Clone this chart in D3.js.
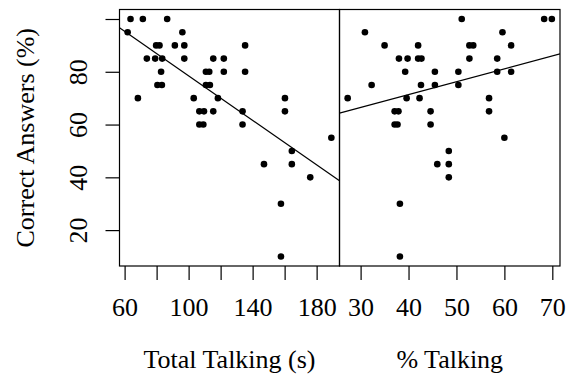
<!DOCTYPE html>
<html><head><meta charset="utf-8">
<script src="https://cdn.jsdelivr.net/npm/d3@7"></script>
<style>body{margin:0;background:#fff}svg{display:block}text{font-family:"Liberation Serif","Times New Roman",serif;fill:#000}</style>
</head><body><svg id="c" width="566" height="376"></svg>
<script>
// Left panel: Total Talking (s) vs Correct Answers (%)
const totalTalking = [63.7,71.4,86.6, 61.9,96.1, 79.7,81.8,91.4,97.3,135.3, 73.9,79.1,83.5,97.3,115.4,122,
  82.8,110.8,112.9,122,135.3, 80.5,83.3,110.8,113.3, 68.3,103.2,118.3,160.2, 106.7,109.6,115.4,133.7,160.2,
  106.7,109.2,133.7, 189.2, 164.5, 147.1,164.5, 176, 157.7, 157.7];
const correctLeft = [100,100,100, 95,95, 90,90,90,90,90, 85,85,85,85,85,85,
  80,80,80,80,80, 75,75,75,75, 70,70,70,70, 65,65,65,65,65,
  60,60,60, 55, 50, 45,45, 40, 30, 10];
// Right panel: % Talking vs Correct Answers (%)
const pctTalking = [51.1,68.3,69.9, 30.9,59.6, 35,42,52.7,53.5,61.4, 38,39.8,42,42.7,52.7,58.5,
  39.3,45.5,50.4,58.5,61.4, 32.3,42.6,45.5,50.4, 27.3,39.6,42.3,56.8, 37.1,37.9,44.6,56.8,
  37.1,37.7,44.6, 60, 48.4, 46,48.4, 48.4, 38.2, 38.2];
const correctRight = [100,100,100, 95,95, 90,90,90,90,90, 85,85,85,85,85,85,
  80,80,80,80,80, 75,75,75,75, 70,70,70,70, 65,65,65,65,
  60,60,60, 55, 50, 45,45, 40, 30, 10];
// Fitted regression lines [intercept, slope]
const leftFit = [120.6, -0.4215];
const rightFit = [51.8, 0.489];
const yTicks = [20,40,60,80,100];
const yTickLabels = ["20","40","60","80",""];
const leftXTicks = [60,80,100,120,140,160,180];
const leftXTickLabels = ["60","","100","","140","","180"];
const rightXTicks = [30,40,50,60,70];
const rightXTickLabels = ["30","40","50","60","70"];
const yTitle = "Correct Answers (%)";
const xTitles = ["Total Talking (s)", "% Talking"];

const svg = d3.select("#c");
const plotTop = 9.5, plotBottom = 266;
const FS = 26;
function pad(ext){const r=ext[1]-ext[0];return [ext[0]-0.04*r, ext[1]+0.04*r];}

const allY = correctLeft.concat(correctRight);
const y = d3.scaleLinear().domain(pad(d3.extent(allY))).range([plotBottom, plotTop]);

const panels = [
  {xs: totalTalking, ys: correctLeft, fit:leftFit, x0:119.5, x1:339.5, ticks:leftXTicks, labels:leftXTickLabels, title:xTitles[0]},
  {xs: pctTalking, ys: correctRight, fit:rightFit, x0:339.5, x1:560, ticks:rightXTicks, labels:rightXTickLabels, title:xTitles[1]}
];
const defs = svg.append("defs");
panels.forEach((p,i)=>{
  const x = d3.scaleLinear().domain(pad(d3.extent(p.xs))).range([p.x0,p.x1]);
  const g = svg.append("g");
  defs.append("clipPath").attr("id","clip"+i).append("rect")
    .attr("x",p.x0).attr("y",plotTop).attr("width",p.x1-p.x0).attr("height",plotBottom-plotTop);
  g.append("rect").attr("x",p.x0).attr("y",plotTop).attr("width",p.x1-p.x0).attr("height",plotBottom-plotTop)
    .attr("fill","none").attr("stroke","#000").attr("stroke-width",1.2);
  const ax = svg.append("g").attr("transform",`translate(0,${plotBottom})`)
    .call(d3.axisBottom(x).tickValues(p.ticks).tickSize(14).tickSizeOuter(0)
      .tickFormat((d,j)=>p.labels[j]));
  ax.attr("font-family",null).attr("font-size",null);
  ax.select(".domain").remove();
  ax.selectAll("line").attr("stroke","#000").attr("stroke-width",1.2);
  ax.selectAll("text").style("font-family","'Liberation Serif', serif").style("font-size",FS+"px").attr("y",50).attr("dy",0);
  svg.append("text").attr("x",(p.x0+p.x1)/2).attr("y",368.3).attr("text-anchor","middle")
    .style("font-size",FS+"px").text(p.title);
  g.selectAll("circle").data(p.xs.map((v,j)=>[v,p.ys[j]])).join("circle")
    .attr("cx",d=>x(d[0])).attr("cy",d=>y(d[1])).attr("r",3.3).attr("fill","#000");
  const [a,b] = p.fit;
  const dom = x.domain();
  g.append("line").attr("clip-path",`url(#clip${i})`)
    .attr("x1",x(dom[0])).attr("y1",y(a+b*dom[0])).attr("x2",x(dom[1])).attr("y2",y(a+b*dom[1]))
    .attr("stroke","#000").attr("stroke-width",1.2);
});
const ay = svg.append("g").attr("transform","translate(119.5,0)")
  .call(d3.axisLeft(y).tickValues(yTicks).tickSize(14).tickSizeOuter(0).tickFormat((d,j)=>yTickLabels[j]));
ay.attr("font-family",null).attr("font-size",null);
ay.select(".domain").remove();
ay.selectAll("line").attr("stroke","#000").attr("stroke-width",1.2);
ay.selectAll("text").style("font-family","'Liberation Serif', serif").style("font-size",FS+"px")
  .attr("x",null).attr("dy",0).attr("text-anchor","middle")
  .attr("transform","translate(-32.8,0) rotate(-90)");
svg.append("text").attr("transform",`translate(34,${(plotTop+plotBottom)/2}) rotate(-90)`)
  .attr("text-anchor","middle").style("font-size",FS+"px").text(yTitle);
</script></body></html>
